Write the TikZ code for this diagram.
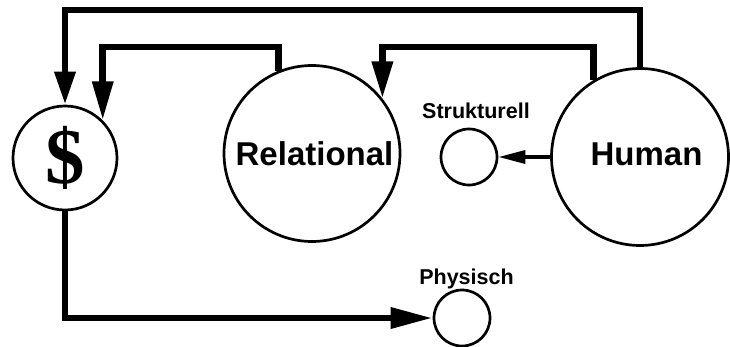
\documentclass[tikz,border=0pt]{standalone}
\usepackage{fontspec}
\setmainfont{Liberation Sans}
\newfontfamily\dollarfont{Liberation Serif}
\usetikzlibrary{arrows.meta}

\begin{document}
\begin{tikzpicture}[x=1pt,y=-1pt,
  ring/.style={circle,draw,line width=2.7pt,inner sep=0pt,minimum size=#1},
  bigtext/.style={font=\bfseries\fontsize{33}{33}\selectfont,anchor=base,inner sep=0pt},
  smalltext/.style={font=\bfseries\fontsize{21.5}{21.5}\selectfont,anchor=base,inner sep=0pt},
  flow/.style={line width=6.5pt,line join=miter,-{Triangle[length=#1,width=20pt]}},
  flow/.default=33pt,
  thinflow/.style={line width=3.5pt,-{Triangle[length=27pt,width=13pt]}}
]
\useasboundingbox (0,0) rectangle (730,347);

% circles
\node[ring=104pt] (dol) at (65,158) {};
\node[ring=176pt] (rel) at (312,153.5) {};
\node[ring=177pt] (hum) at (640,157) {};
\node[ring=56pt]  (str) at (469,157) {};
\node[ring=56pt]  (phy) at (462,318) {};

% texts
\node[font=\dollarfont\bfseries\fontsize{79}{79}\selectfont,anchor=base,inner sep=0pt] (dolT) at (65.5,184) {\$};
\node[bigtext] (relT) at (314.5,166) {Relational};
\node[bigtext] (humT) at (646.5,166) {Human};
\node[smalltext] (strT) at (476,119) {Strukturell};
\node[smalltext] (phyT) at (466.5,284) {Physisch};

% heights of the two return routes
\coordinate (lvl1) at (0,10);
\coordinate (lvl2) at (0,47);

% connectors
\draw[flow=33pt] (hum.north) -- (hum.north |- lvl1) -| (dol.north);
\draw[flow=39pt] (rel.112) -- (rel.112 |- lvl2) -| (dol.45);
\draw[flow=37pt] (hum.121) -- (hum.121 |- lvl2) -| (rel.38);
\draw[flow=42pt] (dol.south) |- (phy.west);
\draw[thinflow] (hum.west) -- (str.east);
\end{tikzpicture}
\end{document}
